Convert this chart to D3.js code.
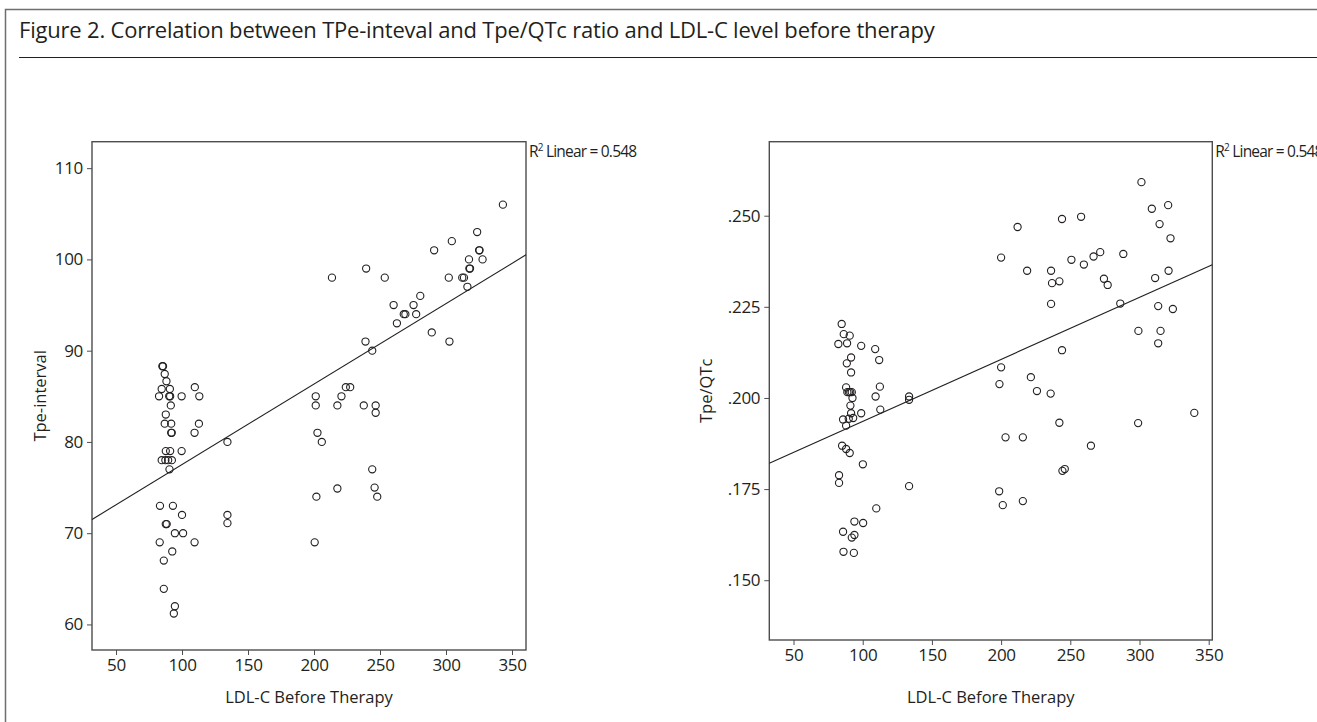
<!DOCTYPE html>
<html>
<head>
<meta charset="utf-8">
<script src="https://cdn.jsdelivr.net/npm/d3@7"></script>
<style>
  body { margin: 0; background: #fff; }
  svg { display: block; font-family: "Open Sans", "Noto Sans", sans-serif; }
  .tick text { fill: #231f20; }
</style>
</head>
<body>
<div id="chart"></div>
<script>
// scatter plots of TPe-interval and Tpe/QTc against LDL-C

const ldlLeft = [85.1, 85.6, 86.9, 88.2, 84.6, 90.8, 82.6, 90.3, 91.0, 99.7, 91.5, 87.7, 86.9, 91.8,
  91.8, 92.2, 87.7, 91.0, 99.7, 84.6, 87.4, 89.5, 92.3, 90.5, 109.7, 113.1, 112.8, 109.5, 134.4,
  83.3, 93.1, 100.0, 87.7, 88.4, 94.6, 100.8, 83.1, 109.5, 92.6, 86.2, 86.2, 94.6, 93.8, 134.4, 134.4,
  201.3, 201.3, 202.6, 205.9, 201.8, 200.5, 217.7, 220.8, 224.1, 227.4, 217.7,
  239.0, 244.1, 289.2, 302.6, 237.7, 246.7, 246.7, 244.1, 245.9, 247.9,
  213.6, 239.5, 253.6, 260.3, 280.5, 275.4, 268.0, 269.2, 277.4, 262.8,
  291.0, 304.4, 323.6, 343.1, 302.1, 312.3, 313.6, 317.4, 317.7, 318.2, 325.1, 325.4, 327.7, 316.2];
const tpeInterval = [88.3, 88.3, 87.45, 86.65, 85.8, 85.8, 85.0, 85.0, 85.0, 85.0, 84.0, 83.0, 82.0, 82.0,
  81.0, 81.0, 79.0, 79.0, 79.0, 78.0, 78.0, 78.0, 78.0, 77.0, 86.0, 85.0, 82.0, 81.0, 80.0,
  73.0, 73.0, 72.0, 71.0, 71.0, 70.0, 70.0, 69.0, 69.0, 68.0, 67.0, 63.9, 62.0, 61.2, 72.0, 71.1,
  85.0, 84.0, 81.0, 80.0, 74.0, 69.0, 84.0, 85.0, 86.0, 86.0, 74.9,
  91.0, 90.0, 92.0, 91.0, 84.0, 84.0, 83.2, 77.0, 75.0, 74.0,
  98.0, 99.0, 98.0, 95.0, 96.0, 95.0, 94.0, 94.0, 94.0, 93.0,
  101.0, 102.0, 103.0, 106.0, 98.0, 98.0, 98.0, 100.0, 99.0, 99.0, 101.0, 101.0, 100.0, 97.0];

const ldlRight = [84.8, 86.3, 90.6, 82.4, 88.7, 98.9, 109.0, 111.9, 91.6, 88.5,
  91.6, 88.0, 88.9, 90.0, 91.0, 92.1, 92.6, 91.1, 91.6, 85.8, 89.9, 93.1, 88.0, 98.9,
  109.3, 112.4, 112.7, 133.5, 133.5, 85.1, 88.0, 90.6, 100.1, 82.9, 82.9, 133.5, 109.8,
  94.0, 100.3, 85.8, 94.0, 92.1, 86.1, 93.6,
  200.0, 200.0, 198.8, 203.2, 198.6, 201.2,
  244.0, 221.5, 225.9, 235.8, 242.1, 299.0, 339.6, 215.7, 264.9, 244.3, 246.0, 215.7,
  299.2, 315.2, 313.5,
  301.4, 308.9, 320.7, 314.5, 322.4, 244.0, 257.8, 211.9, 218.8, 236.1, 236.8, 242.1,
  250.8, 259.8, 266.8, 271.6, 274.3, 277.0, 288.3, 311.3, 321.0, 236.1, 286.1, 313.5, 324.1];
const tpeQtc = [0.2203, 0.2175, 0.2171, 0.2148, 0.2150, 0.2143, 0.2134, 0.2104, 0.2111, 0.2095,
  0.2070, 0.2029, 0.2016, 0.2016, 0.2016, 0.2016, 0.2000, 0.1979, 0.1958, 0.1941, 0.1943, 0.1945, 0.1924, 0.1958,
  0.2004, 0.2031, 0.1968, 0.2004, 0.1995, 0.1869, 0.1860, 0.1849, 0.1818, 0.1788, 0.1767, 0.1758, 0.1697,
  0.1661, 0.1657, 0.1633, 0.1624, 0.1617, 0.1578, 0.1575,
  0.2385, 0.2084, 0.2038, 0.1892, 0.1744, 0.1706,
  0.2131, 0.2057, 0.2019, 0.2012, 0.1932, 0.1931, 0.1959, 0.1892, 0.1869, 0.1800, 0.1805, 0.1717,
  0.2184, 0.2184, 0.2150,
  0.2592, 0.2519, 0.2529, 0.2477, 0.2438, 0.2491, 0.2497, 0.2469, 0.2349, 0.2349, 0.2315, 0.2320,
  0.2379, 0.2366, 0.2388, 0.2400, 0.2327, 0.2310, 0.2395, 0.2329, 0.2349, 0.2258, 0.2259, 0.2252, 0.2244];

// fitted lines as drawn in the figure: [intercept, slope]
const fitLeft = [68.7, 0.0882];
const fitRight = [0.17658, 0.000170];
const r2Label = "0.548";

const xTicks = [50, 100, 150, 200, 250, 300, 350];
const yTicksLeft = [60, 70, 80, 90, 100, 110];
const yTicksRight = [0.150, 0.175, 0.200, 0.225, 0.250];

const title = "Figure 2. Correlation between TPe-inteval and Tpe/QTc ratio and LDL-C level before therapy";
const xTitle = "LDL-C Before Therapy";

const W = 1317, H = 722;
const ink = "#231f20";

const svg = d3.select("#chart").append("svg")
  .attr("width", W).attr("height", H);

// frame
svg.append("path")
  .attr("d", `M5.5,${H} V9.5 H${W}`)
  .attr("fill", "none").attr("stroke", "#6d6e71").attr("stroke-width", 1.5);
svg.append("line")
  .attr("x1", 19).attr("x2", W).attr("y1", 57.5).attr("y2", 57.5)
  .attr("stroke", ink).attr("stroke-width", 1);
svg.append("text")
  .attr("x", 19).attr("y", 38)
  .attr("font-size", 22).attr("fill", ink)
  .attr("letter-spacing", -0.2)
  .text(title);

function panel(cfg) {
  const x = d3.scaleLinear().domain(cfg.xDomain).range([cfg.left, cfg.right]);
  const y = d3.scaleLinear().domain(cfg.yDomain).range([cfg.bottom, cfg.top]);
  const g = svg.append("g");

  g.append("rect")
    .attr("x", cfg.left).attr("y", cfg.top)
    .attr("width", cfg.right - cfg.left).attr("height", cfg.bottom - cfg.top)
    .attr("fill", "none").attr("stroke", "#4d4d4f").attr("stroke-width", 1.4);

  const xAxis = g.append("g")
    .attr("transform", `translate(0,${cfg.bottom})`)
    .call(d3.axisBottom(x).tickValues(xTicks).tickSize(5).tickPadding(4));
  const yAxis = g.append("g")
    .attr("transform", `translate(${cfg.left},0)`)
    .call(d3.axisLeft(y).tickValues(cfg.yTicks).tickSize(5).tickPadding(4).tickFormat(cfg.fmt));
  [xAxis, yAxis].forEach(a => {
    a.select(".domain").remove();
    a.selectAll(".tick line").attr("stroke", "#4d4d4f");
    a.selectAll(".tick text").attr("font-size", 17).attr("font-family", "Open Sans, sans-serif")
      .attr("letter-spacing", -0.3);
  });

  // regression line clipped to the box
  const x0 = cfg.xDomain[0], x1 = cfg.xDomain[1];
  g.append("line")
    .attr("x1", x(x0)).attr("y1", y(cfg.fit[0] + cfg.fit[1] * x0))
    .attr("x2", x(x1)).attr("y2", y(cfg.fit[0] + cfg.fit[1] * x1))
    .attr("stroke", ink).attr("stroke-width", 1.1);

  g.selectAll("circle.pt")
    .data(d3.zip(cfg.xs, cfg.ys))
    .join("circle")
    .attr("class", "pt")
    .attr("cx", d => x(d[0])).attr("cy", d => y(d[1]))
    .attr("r", 3.6)
    .attr("fill", "none").attr("stroke", ink).attr("stroke-width", 1.1);

  const r2 = g.append("text")
    .attr("x", cfg.right + 3).attr("y", cfg.top + 15)
    .attr("font-size", 15.5).attr("fill", ink)
    .attr("letter-spacing", -0.8);
  r2.append("tspan").text("R");
  r2.append("tspan").attr("font-size", 10).attr("dy", -6).text("2");
  r2.append("tspan").attr("dy", 6).text(" Linear = " + r2Label);

  g.append("text")
    .attr("x", (cfg.left + cfg.right) / 2).attr("y", 703)
    .attr("text-anchor", "middle").attr("font-size", 16.5).attr("fill", ink)
    .text(xTitle);
  g.append("text")
    .attr("transform", `translate(${cfg.yTitleX},${(cfg.top + cfg.bottom) / 2}) rotate(-90)`)
    .attr("text-anchor", "middle").attr("font-size", 16.5).attr("fill", ink)
    .text(cfg.yTitle);
}

panel({
  left: 92, right: 526, top: 141.7, bottom: 650,
  xDomain: [31.8, 360.6], yDomain: [57.2, 112.9],
  yTicks: yTicksLeft, fmt: d3.format("d"),
  xs: ldlLeft, ys: tpeInterval, fit: fitLeft,
  yTitle: "Tpe-interval", yTitleX: 46
});

panel({
  left: 769.3, right: 1212.3, top: 141.7, bottom: 640,
  xDomain: [32.5, 352.6], yDomain: [0.1336, 0.2703],
  yTicks: yTicksRight, fmt: d => d3.format(".3f")(d).replace(/^0/, ""),
  xs: ldlRight, ys: tpeQtc, fit: fitRight,
  yTitle: "Tpe/QTc", yTitleX: 712
});
</script>
</body>
</html>
